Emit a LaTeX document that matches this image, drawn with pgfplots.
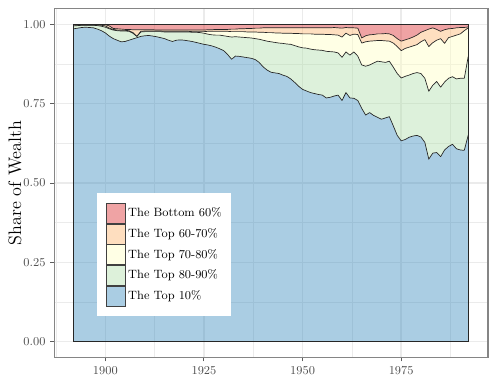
\documentclass[border=0pt]{standalone}
\usepackage{pgfplots}
\pgfplotsset{compat=1.18}
\usepackage{pgfplotstable}
\usepgfplotslibrary{fillbetween}
\usetikzlibrary{calc}
\definecolor{cA}{HTML}{2B83BA}
\definecolor{cB}{HTML}{ABDDA4}
\definecolor{cC}{HTML}{FFFFBF}
\definecolor{cD}{HTML}{FDAE61}
\definecolor{cE}{HTML}{D7191C}
\definecolor{gridc}{gray}{0.92}
\definecolor{txt}{gray}{0.30}
\definecolor{bord}{gray}{0.20}

\pgfplotstableread{
year a b c d
1892 0.986 0.995 0.998 0.999
1893 0.988 0.996 0.998 0.999
1894 0.990 0.997 0.998 0.999
1895 0.991 0.997 0.998 0.999
1896 0.990 0.997 0.998 0.999
1897 0.989 0.997 0.998 0.999
1898 0.985 0.996 0.998 0.999
1899 0.980 0.994 0.997 0.999
1900 0.973 0.991 0.995 0.999
1901 0.963 0.986 0.988 0.995
1902 0.955 0.982 0.984 0.987
1903 0.950 0.980 0.982 0.986
1904 0.945 0.979 0.981 0.985
1905 0.946 0.979 0.981 0.984
1906 0.950 0.978 0.980 0.984
1907 0.954 0.972 0.974 0.983
1908 0.958 0.962 0.962 0.983
1909 0.962 0.976 0.978 0.983
1910 0.964 0.977 0.979 0.983
1911 0.965 0.977 0.979 0.983
1912 0.963 0.977 0.979 0.983
1913 0.961 0.977 0.979 0.982
1914 0.958 0.977 0.979 0.982
1915 0.955 0.976 0.978 0.982
1916 0.950 0.976 0.978 0.982
1917 0.946 0.976 0.978 0.982
1918 0.950 0.976 0.978 0.982
1919 0.951 0.976 0.978 0.982
1920 0.950 0.976 0.978 0.982
1921 0.948 0.976 0.978 0.982
1922 0.946 0.975 0.977 0.982
1923 0.943 0.975 0.977 0.982
1924 0.940 0.974 0.977 0.982
1925 0.937 0.972 0.977 0.982
1926 0.935 0.969 0.978 0.983
1927 0.932 0.967 0.978 0.983
1928 0.928 0.966 0.978 0.984
1929 0.923 0.966 0.978 0.984
1930 0.917 0.964 0.978 0.984
1931 0.905 0.962 0.978 0.984
1932 0.890 0.960 0.977 0.985
1933 0.900 0.961 0.977 0.985
1934 0.899 0.960 0.977 0.986
1935 0.897 0.959 0.977 0.986
1936 0.895 0.958 0.976 0.987
1937 0.893 0.957 0.976 0.987
1938 0.889 0.955 0.976 0.988
1939 0.880 0.953 0.975 0.988
1940 0.866 0.950 0.975 0.989
1941 0.856 0.947 0.974 0.989
1942 0.849 0.945 0.974 0.989
1943 0.847 0.943 0.973 0.989
1944 0.845 0.941 0.973 0.989
1945 0.840 0.940 0.972 0.989
1946 0.836 0.938 0.972 0.989
1947 0.828 0.937 0.972 0.989
1948 0.817 0.933 0.971 0.989
1949 0.805 0.929 0.971 0.989
1950 0.795 0.926 0.970 0.989
1951 0.790 0.925 0.970 0.989
1952 0.785 0.922 0.970 0.989
1953 0.782 0.920 0.969 0.989
1954 0.779 0.919 0.969 0.989
1955 0.777 0.918 0.969 0.989
1956 0.768 0.915 0.968 0.989
1957 0.770 0.914 0.968 0.989
1958 0.774 0.913 0.967 0.990
1959 0.777 0.910 0.966 0.989
1960 0.760 0.896 0.960 0.988
1961 0.785 0.913 0.972 0.990
1962 0.768 0.903 0.965 0.989
1963 0.767 0.913 0.969 0.989
1964 0.760 0.900 0.968 0.988
1965 0.735 0.872 0.941 0.957
1966 0.714 0.868 0.945 0.964
1967 0.722 0.872 0.947 0.967
1968 0.713 0.878 0.948 0.968
1969 0.707 0.884 0.949 0.970
1970 0.701 0.882 0.949 0.970
1971 0.705 0.880 0.948 0.971
1972 0.709 0.884 0.947 0.970
1973 0.680 0.865 0.941 0.965
1974 0.650 0.845 0.930 0.955
1975 0.633 0.831 0.917 0.947
1976 0.637 0.836 0.924 0.951
1977 0.644 0.840 0.928 0.955
1978 0.648 0.845 0.932 0.960
1979 0.650 0.848 0.936 0.966
1980 0.645 0.845 0.945 0.975
1981 0.628 0.830 0.952 0.980
1982 0.575 0.789 0.930 0.985
1983 0.594 0.808 0.942 0.989
1984 0.596 0.820 0.950 0.984
1985 0.583 0.802 0.955 0.978
1986 0.604 0.818 0.940 0.983
1987 0.615 0.830 0.958 0.986
1988 0.622 0.835 0.962 0.987
1989 0.608 0.828 0.966 0.989
1990 0.604 0.830 0.970 0.990
1991 0.603 0.830 0.980 0.990
1992 0.651 0.899 0.989 0.992
}\wealth

\begin{document}
\begin{tikzpicture}
\begin{axis}[
  scale only axis, width=317pt, height=255pt,
  xmin=1887, xmax=1997, ymin=-0.05, ymax=1.05,
  xtick={1900,1925,1950,1975}, xticklabels={1900,1925,1950,1975},
  minor xtick={1887.5,1912.5,1937.5,1962.5,1987.5},
  ytick={0,0.25,0.5,0.75,1}, yticklabels={0.00,0.25,0.50,0.75,1.00},
  minor ytick={0.125,0.375,0.625,0.875},
  grid=both,
  major grid style={gridc, line width=1.07pt},
  minor grid style={gridc, line width=0.53pt},
  axis line style={bord!60, line width=0.8pt},
  tick style={bord!80, line width=0.7pt},
  tick align=outside, major tick length=2.75pt, minor tick length=0pt,
  xtick pos=bottom, ytick pos=left,
  tick label style={font=\fontsize{8.8}{10}\selectfont, text=txt},
  ylabel={Share of Wealth},
  every axis y label/.style={at={(axis description cs:-0.0899,0.5)}, rotate=90, anchor=center, font=\fontsize{13.2}{15}\selectfont},
  no markers,
  legend cell align=left,
  legend style={at={(0.099,0.472)}, anchor=north west, fill=white, draw=none,
    inner xsep=6.6pt, inner ysep=7.3pt, row sep=0pt,
    font=\fontsize{8.8}{10}\selectfont,
    /tikz/every odd column/.append style={column sep=1.5pt},
    nodes={inner sep=0pt}},
  legend image code/.code={\draw[#1, draw=black!75, line width=0.5pt] (0pt,-7.3pt) rectangle (14pt,7.3pt);},
]
\addplot[name path=P0, draw=none, forget plot] coordinates {(1892,0) (1992,0)};
\addplot[name path=P1, draw=none, forget plot] table[x=year,y=a]{\wealth};
\addplot[name path=P2, draw=none, forget plot] table[x=year,y=b]{\wealth};
\addplot[name path=P3, draw=none, forget plot] table[x=year,y=c]{\wealth};
\addplot[name path=P4, draw=none, forget plot] table[x=year,y=d]{\wealth};
\addplot[name path=P5, draw=none, forget plot] coordinates {(1892,1) (1992,1)};

\addplot[fill=cA, fill opacity=0.4, draw=none, forget plot] fill between[of=P1 and P0];
\addplot[fill=cB, fill opacity=0.4, draw=none, forget plot] fill between[of=P2 and P1];
\addplot[fill=cC, fill opacity=0.4, draw=none, forget plot] fill between[of=P3 and P2];
\addplot[fill=cD, fill opacity=0.4, draw=none, forget plot] fill between[of=P4 and P3];
\addplot[fill=cE, fill opacity=0.4, draw=none, forget plot] fill between[of=P5 and P4];

\addplot[black!85, line width=0.5pt, line join=round, forget plot] table[x=year,y=a]{\wealth};
\addplot[black!85, line width=0.5pt, line join=round, forget plot] table[x=year,y=b]{\wealth};
\addplot[black!85, line width=0.5pt, line join=round, forget plot] table[x=year,y=c]{\wealth};
\addplot[black!85, line width=0.5pt, line join=round, forget plot] table[x=year,y=d]{\wealth};
\addplot[black!85, line width=0.5pt, forget plot] coordinates {(1892,1) (1992,1)};
\addplot[black!85, line width=0.5pt, forget plot] coordinates {(1892,0) (1992,0)};
\addplot[black!85, line width=0.5pt, forget plot] coordinates {(1892,0) (1892,1)};
\addplot[black!85, line width=0.5pt, forget plot] coordinates {(1992,0) (1992,1)};

\addlegendimage{fill=cE, fill opacity=0.4}
\addlegendentry{The Bottom 60\%}
\addlegendimage{fill=cD, fill opacity=0.4}
\addlegendentry{The Top 60-70\%}
\addlegendimage{fill=cC, fill opacity=0.4}
\addlegendentry{The Top 70-80\%}
\addlegendimage{fill=cB, fill opacity=0.4}
\addlegendentry{The Top 80-90\%}
\addlegendimage{fill=cA, fill opacity=0.4}
\addlegendentry{The Top 10\%}
\end{axis}
\pgfresetboundingbox
\useasboundingbox ($(current axis.south west)+(-39.5pt,-18.6pt)$) rectangle ($(current axis.north east)+(8.8pt,6.2pt)$);
\end{tikzpicture}
\end{document}
